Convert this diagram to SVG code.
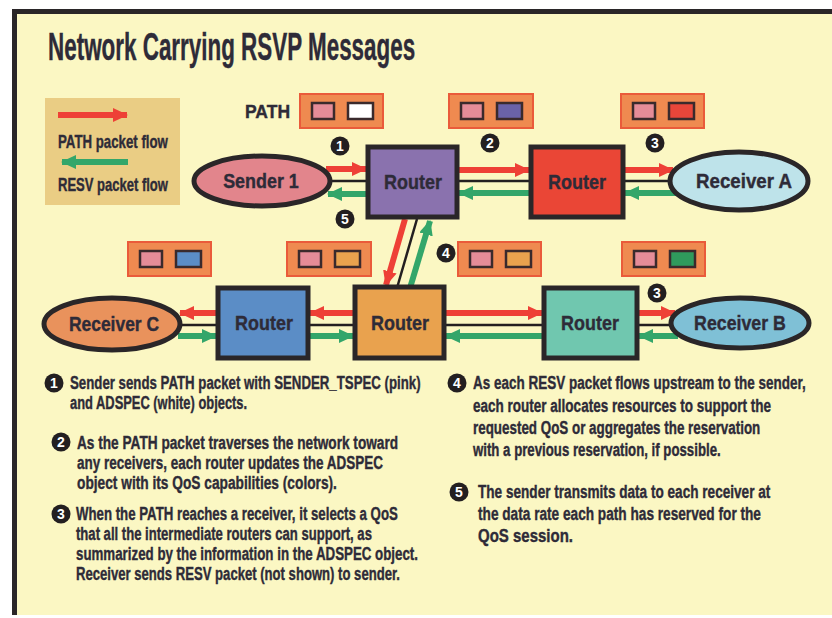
<svg xmlns="http://www.w3.org/2000/svg" width="832" height="618" viewBox="0 0 832 618">
<defs>
<style>
.t{font-family:"Liberation Sans",Arial,sans-serif;font-weight:bold;fill:#2E2B38;stroke:#2E2B38;stroke-width:0.4}
.body{font-size:19px}
.lbl{font-size:21px;text-anchor:middle}
.rt{stroke:#2A2628;stroke-width:5}
.el{stroke:#2A2628;stroke-width:5}
.pk{fill:#EF8A50;stroke:#EA5B3A;stroke-width:2}
.in{stroke:#3A2A2C;stroke-width:2.5}
.red{stroke:#EE4036;stroke-width:6;fill:none}
.grn{stroke:#33A66A;stroke-width:6;fill:none}
.blk{stroke:#231F20;stroke-width:2.5;fill:none}
.num{fill:#231F20}
.nt{font-family:"Liberation Sans",Arial,sans-serif;font-weight:bold;font-size:14px;fill:#FFFFFF;text-anchor:middle}
</style>
<marker id="ar" markerUnits="userSpaceOnUse" markerWidth="15" markerHeight="14" refX="14" refY="7" orient="auto"><path d="M0,0 L15,7 L0,14 z" fill="#EE4036"/></marker>
<marker id="ag" markerUnits="userSpaceOnUse" markerWidth="15" markerHeight="14" refX="14" refY="7" orient="auto"><path d="M0,0 L15,7 L0,14 z" fill="#33A66A"/></marker>
</defs>
<rect x="0" y="0" width="832" height="618" fill="#FFFFFF"/>
<rect x="14" y="11" width="818" height="604" fill="#FBF7C3"/>
<line x1="12" y1="11.5" x2="832" y2="11.5" stroke="#2A2628" stroke-width="5"/>
<line x1="14.5" y1="9" x2="14.5" y2="615" stroke="#2A2628" stroke-width="5"/>

<text class="t" transform="translate(48,60) scale(0.6,1)" x="0" y="0" font-size="38" textLength="612" lengthAdjust="spacingAndGlyphs">Network Carrying RSVP Messages</text>

<g id="legend">
<rect x="45" y="98" width="135" height="107" fill="#EACD84"/>
<line x1="58" y1="115" x2="127" y2="115" class="red" marker-end="url(#ar)"/>
<text class="t body" transform="translate(58,148) scale(0.7,1)" x="0" y="0" textLength="157" lengthAdjust="spacingAndGlyphs">PATH packet flow</text>
<line x1="128" y1="162" x2="62" y2="162" class="grn" marker-end="url(#ag)"/>
<text class="t body" transform="translate(58,191) scale(0.7,1)" x="0" y="0" textLength="157" lengthAdjust="spacingAndGlyphs">RESV packet flow</text>
</g>

<g id="connectors">
<line x1="326" y1="169" x2="366" y2="169" class="red" marker-end="url(#ar)"/>
<line x1="326" y1="181" x2="368" y2="181" class="blk"/>
<line x1="368" y1="194" x2="328" y2="194" class="grn" marker-end="url(#ag)"/>
<line x1="457" y1="170" x2="529" y2="170" class="red" marker-end="url(#ar)"/>
<line x1="457" y1="181" x2="531" y2="181" class="blk"/>
<line x1="531" y1="193" x2="459" y2="193" class="grn" marker-end="url(#ag)"/>
<line x1="623" y1="170" x2="673" y2="170" class="red" marker-end="url(#ar)"/>
<line x1="623" y1="181" x2="675" y2="181" class="blk"/>
<line x1="676" y1="193" x2="625" y2="193" class="grn" marker-end="url(#ag)"/>
<line x1="405" y1="219" x2="386" y2="285" class="red" marker-end="url(#ar)"/>
<line x1="417" y1="219" x2="397" y2="288" class="blk"/>
<line x1="410" y1="288" x2="430" y2="221" class="grn" marker-end="url(#ag)"/>
<line x1="218" y1="313" x2="180" y2="313" class="red" marker-end="url(#ar)"/>
<line x1="176" y1="325" x2="218" y2="325" class="blk"/>
<line x1="178" y1="336" x2="216" y2="336" class="grn" marker-end="url(#ag)"/>
<line x1="355" y1="313" x2="310" y2="313" class="red" marker-end="url(#ar)"/>
<line x1="308" y1="325" x2="355" y2="325" class="blk"/>
<line x1="308" y1="336" x2="353" y2="336" class="grn" marker-end="url(#ag)"/>
<line x1="444" y1="313" x2="542" y2="313" class="red" marker-end="url(#ar)"/>
<line x1="444" y1="325" x2="544" y2="325" class="blk"/>
<line x1="544" y1="336" x2="446" y2="336" class="grn" marker-end="url(#ag)"/>
<line x1="637" y1="313" x2="675" y2="313" class="red" marker-end="url(#ar)"/>
<line x1="637" y1="325" x2="675" y2="325" class="blk"/>
<line x1="678" y1="336" x2="639" y2="336" class="grn" marker-end="url(#ag)"/>
</g>

<g id="sender1"><ellipse cx="262" cy="181" rx="68" ry="25" fill="#E2858C" class="el"/><text class="t lbl" transform="translate(261,188) scale(0.85,1)" x="0" y="0" textLength="89" lengthAdjust="spacingAndGlyphs">Sender 1</text></g>
<g id="router1"><rect x="368" y="147" width="89" height="70" fill="#8A72AE" class="rt"/><text class="t lbl" transform="translate(413,189) scale(0.85,1)" x="0" y="0" textLength="68" lengthAdjust="spacingAndGlyphs">Router</text></g>
<g id="router2"><rect x="531" y="147" width="92" height="70" fill="#EA4636" class="rt"/><text class="t lbl" transform="translate(577,189) scale(0.85,1)" x="0" y="0" textLength="68" lengthAdjust="spacingAndGlyphs">Router</text></g>
<g id="receiverA"><ellipse cx="739" cy="181" rx="69" ry="29" fill="#BEE3EA" class="el"/><text class="t lbl" transform="translate(744,188) scale(0.85,1)" x="0" y="0" textLength="113" lengthAdjust="spacingAndGlyphs">Receiver A</text></g>
<g id="receiverC"><ellipse cx="112" cy="324" rx="68" ry="26" fill="#E9925C" class="el"/><text class="t lbl" transform="translate(114,331) scale(0.85,1)" x="0" y="0" textLength="106" lengthAdjust="spacingAndGlyphs">Receiver C</text></g>
<g id="router3"><rect x="218" y="288" width="90" height="70" fill="#5B8DC6" class="rt"/><text class="t lbl" transform="translate(264,330) scale(0.85,1)" x="0" y="0" textLength="68" lengthAdjust="spacingAndGlyphs">Router</text></g>
<g id="router4"><rect x="355" y="287" width="89" height="71" fill="#E9A24E" class="rt"/><text class="t lbl" transform="translate(400,330) scale(0.85,1)" x="0" y="0" textLength="68" lengthAdjust="spacingAndGlyphs">Router</text></g>
<g id="router5"><rect x="544" y="288" width="93" height="70" fill="#70C7AF" class="rt"/><text class="t lbl" transform="translate(590,330) scale(0.85,1)" x="0" y="0" textLength="68" lengthAdjust="spacingAndGlyphs">Router</text></g>
<g id="receiverB"><ellipse cx="740" cy="323" rx="69" ry="25" fill="#7FC0D6" class="el"/><text class="t lbl" transform="translate(740,330) scale(0.85,1)" x="0" y="0" textLength="108" lengthAdjust="spacingAndGlyphs">Receiver B</text></g>

<g id="path-label"><text class="t" transform="translate(245,118) scale(0.85,1)" x="0" y="0" font-size="19" textLength="53" lengthAdjust="spacingAndGlyphs">PATH</text></g>
<g id="packet1"><rect x="300" y="94" width="83" height="34" class="pk"/><rect x="312" y="103" width="22" height="16" fill="#E58C98" class="in"/><rect x="348" y="103" width="25" height="16" fill="#FFFFFF" class="in"/></g>
<g id="packet2"><rect x="449" y="94" width="84" height="34" class="pk"/><rect x="461" y="103" width="22" height="16" fill="#E58C98" class="in"/><rect x="497" y="103" width="25" height="16" fill="#6A62A8" class="in"/></g>
<g id="packet3"><rect x="621" y="94" width="83" height="34" class="pk"/><rect x="633" y="103" width="22" height="16" fill="#E58C98" class="in"/><rect x="669" y="103" width="25" height="16" fill="#E8463A" class="in"/></g>
<g id="packet4"><rect x="128" y="242" width="83" height="34" class="pk"/><rect x="140" y="251" width="22" height="16" fill="#E58C98" class="in"/><rect x="176" y="251" width="25" height="16" fill="#5B8DC6" class="in"/></g>
<g id="packet5"><rect x="287" y="242" width="84" height="34" class="pk"/><rect x="299" y="251" width="22" height="16" fill="#E58C98" class="in"/><rect x="335" y="251" width="25" height="16" fill="#E9A24E" class="in"/></g>
<g id="packet6"><rect x="458" y="242" width="83" height="34" class="pk"/><rect x="470" y="251" width="22" height="16" fill="#E58C98" class="in"/><rect x="506" y="251" width="25" height="16" fill="#E9A24E" class="in"/></g>
<g id="packet7"><rect x="622" y="242" width="83" height="34" class="pk"/><rect x="634" y="251" width="22" height="16" fill="#E58C98" class="in"/><rect x="670" y="251" width="25" height="16" fill="#2F9A5C" class="in"/></g>

<g id="steps">
<circle cx="340" cy="146" r="9.5" class="num"/><text class="nt" x="340" y="151">1</text>
<circle cx="490" cy="143" r="9.5" class="num"/><text class="nt" x="490" y="148">2</text>
<circle cx="655" cy="143" r="9.5" class="num"/><text class="nt" x="655" y="148">3</text>
<circle cx="345" cy="219" r="9.5" class="num"/><text class="nt" x="345" y="224">5</text>
<circle cx="446" cy="253" r="9.5" class="num"/><text class="nt" x="446" y="258">4</text>
<circle cx="657" cy="293" r="9.5" class="num"/><text class="nt" x="657" y="298">3</text>
</g>

<g id="notes">
<circle cx="54" cy="383" r="9.5" class="num"/><text class="nt" x="54" y="388">1</text>
<text class="t body" transform="translate(70,389) scale(0.72,1)" x="0" y="0" textLength="487" lengthAdjust="spacingAndGlyphs">Sender sends PATH packet with SENDER_TSPEC (pink)</text>
<text class="t body" transform="translate(70,409) scale(0.72,1)" x="0" y="0" textLength="246" lengthAdjust="spacingAndGlyphs">and ADSPEC (white) objects.</text>
<circle cx="61" cy="442" r="9.5" class="num"/><text class="nt" x="61" y="447">2</text>
<text class="t body" transform="translate(77,449) scale(0.72,1)" x="0" y="0" textLength="446" lengthAdjust="spacingAndGlyphs">As the PATH packet traverses the network toward</text>
<text class="t body" transform="translate(77,469) scale(0.72,1)" x="0" y="0" textLength="425" lengthAdjust="spacingAndGlyphs">any receivers, each router updates the ADSPEC</text>
<text class="t body" transform="translate(77,489) scale(0.72,1)" x="0" y="0" textLength="361" lengthAdjust="spacingAndGlyphs">object with its QoS capabilities (colors).</text>
<circle cx="61" cy="514" r="9.5" class="num"/><text class="nt" x="61" y="519">3</text>
<text class="t body" transform="translate(76,520) scale(0.72,1)" x="0" y="0" textLength="447" lengthAdjust="spacingAndGlyphs">When the PATH reaches a receiver, it selects a QoS</text>
<text class="t body" transform="translate(76,540) scale(0.72,1)" x="0" y="0" textLength="411" lengthAdjust="spacingAndGlyphs">that all the intermediate routers can support, as</text>
<text class="t body" transform="translate(76,560) scale(0.72,1)" x="0" y="0" textLength="475" lengthAdjust="spacingAndGlyphs">summarized by the information in the ADSPEC object.</text>
<text class="t body" transform="translate(76,580) scale(0.72,1)" x="0" y="0" textLength="450" lengthAdjust="spacingAndGlyphs">Receiver sends RESV packet (not shown) to sender.</text>
<circle cx="457" cy="383" r="9.5" class="num"/><text class="nt" x="457" y="388">4</text>
<text class="t body" transform="translate(473,389) scale(0.72,1)" x="0" y="0" textLength="462" lengthAdjust="spacingAndGlyphs">As each RESV packet flows upstream to the sender,</text>
<text class="t body" transform="translate(473,412) scale(0.72,1)" x="0" y="0" textLength="414" lengthAdjust="spacingAndGlyphs">each router allocates resources to support the</text>
<text class="t body" transform="translate(473,434) scale(0.72,1)" x="0" y="0" textLength="399" lengthAdjust="spacingAndGlyphs">requested QoS or aggregates the reservation</text>
<text class="t body" transform="translate(473,456) scale(0.72,1)" x="0" y="0" textLength="344" lengthAdjust="spacingAndGlyphs">with a previous reservation, if possible.</text>
<circle cx="459" cy="492" r="9.5" class="num"/><text class="nt" x="459" y="497">5</text>
<text class="t body" transform="translate(478,498) scale(0.72,1)" x="0" y="0" textLength="406" lengthAdjust="spacingAndGlyphs">The sender transmits data to each receiver at</text>
<text class="t body" transform="translate(478,520) scale(0.72,1)" x="0" y="0" textLength="393" lengthAdjust="spacingAndGlyphs">the data rate each path has reserved for the</text>
<text class="t body" transform="translate(478,542) scale(0.72,1)" x="0" y="0" textLength="132" lengthAdjust="spacingAndGlyphs">QoS session.</text>
</g>
</svg>
